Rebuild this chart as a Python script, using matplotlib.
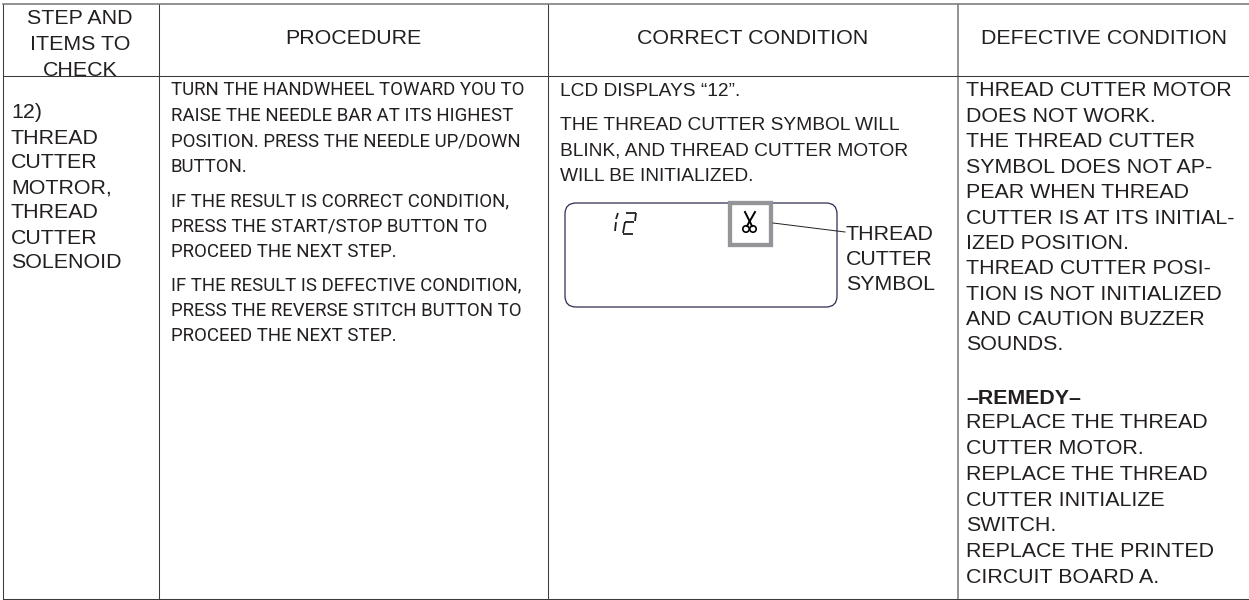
import matplotlib.pyplot as plt
from matplotlib.patches import FancyBboxPatch, Rectangle, Circle

plt.rcParams['font.family'] = ['Liberation Sans', 'DejaVu Sans']

headers = ['PROCEDURE', 'CORRECT CONDITION', 'DEFECTIVE CONDITION']
header_first = ['STEP AND', 'ITEMS TO', 'CHECK']
col_items = ['12)', 'THREAD', 'CUTTER', 'MOTROR,', 'THREAD', 'CUTTER', 'SOLENOID']
proc_1 = ['TURN THE HANDWHEEL TOWARD YOU TO', 'RAISE THE NEEDLE BAR AT ITS HIGHEST',
          'POSITION. PRESS THE NEEDLE UP/DOWN', 'BUTTON.']
proc_2 = ['IF THE RESULT IS CORRECT CONDITION,', 'PRESS THE START/STOP BUTTON TO',
          'PROCEED THE NEXT STEP.']
proc_3 = ['IF THE RESULT IS DEFECTIVE CONDITION,', 'PRESS THE REVERSE STITCH BUTTON TO',
          'PROCEED THE NEXT STEP.']
correct_1 = ['LCD DISPLAYS “12”.']
correct_2 = ['THE THREAD CUTTER SYMBOL WILL', 'BLINK, AND THREAD CUTTER MOTOR',
             'WILL BE INITIALIZED.']
symbol_label = ['THREAD', 'CUTTER', 'SYMBOL']
defect = ['THREAD CUTTER MOTOR', 'DOES NOT WORK.', 'THE THREAD CUTTER',
          'SYMBOL DOES NOT AP-', 'PEAR WHEN THREAD', 'CUTTER IS AT ITS INITIAL-',
          'IZED POSITION.', 'THREAD CUTTER POSI-', 'TION IS NOT INITIALIZED',
          'AND CAUTION BUZZER', 'SOUNDS.']
remedy = ['REPLACE THE THREAD', 'CUTTER MOTOR.', 'REPLACE THE THREAD',
          'CUTTER INITIALIZE', 'SWITCH.', 'REPLACE THE PRINTED', 'CIRCUIT BOARD A.']

fig = plt.figure(figsize=(12.49, 6), dpi=100)
ax = fig.add_axes([0, 0, 1, 1])
ax.set_xlim(0, 1249)
ax.set_ylim(600, 0)
ax.axis('off')

DARK = '#3a3a3a'
GREY = '#808080'
INK = '#231f20'
SIZE = 15.4


def block(lines, x, y, step, size=SIZE, ha='left', **kw):
    for i, line in enumerate(lines):
        ax.text(x, y + 1 + i * step, line, fontsize=size, ha=ha, va='center', color=INK, **kw)


# table grid, no line on the right side
top, bottom, head = 4, 599, 76
for x in [3, 159, 548]:
    ax.plot([x, x], [top, bottom], color=DARK, lw=0.75)
ax.plot([958, 958], [top, bottom], color=GREY, lw=1.2)
ax.plot([3, 1249], [top, top], color=GREY, lw=1.2)
ax.plot([3, 1249], [head, head], color=DARK, lw=0.75)
ax.plot([3, 1249], [bottom, bottom], color=DARK, lw=0.75)

# header row
block(header_first, 80, 17, 26, ha='center')
for name, x in zip(headers, [353, 753, 1104]):
    ax.text(x, 39, name, fontsize=SIZE, ha='center', va='center', color=INK)

# body text, procedure column is condensed in the original so roboto fits best
block(col_items, 11, 112, 25)
block(proc_1, 171, 89, 25.7, size=13.4, family='Roboto')
block(proc_2, 171, 200, 25.7, size=13.4, family='Roboto')
block(proc_3, 171, 284, 25.7, size=13.4, family='Roboto')
block(correct_1, 560, 90, 26, size=13.8)
block(correct_2, 560, 124, 25.7, size=13.8)
block(symbol_label, 846, 233, 25.5)
block(defect, 966, 90, 25.4)
ax.text(966, 398, '–REMEDY–', fontsize=SIZE, fontweight='bold', ha='left', va='center', color=INK)
block(remedy, 966, 422, 25.67)

# lcd panel
ax.add_patch(FancyBboxPatch((565, 203), 272, 104, boxstyle='round,pad=0,rounding_size=11',
                            fc='white', ec='#2b2b50', lw=0.9))
ax.add_patch(Rectangle((730, 203), 41, 42, fc='white', ec='#939598', lw=3.1))
ax.plot([773, 845], [223, 232], color=INK, lw=0.7)

# seven segment 12
for xs, ys in [([618, 616], [213, 219]), ([616, 615], [222, 231]),
               ([626, 636], [213, 213]), ([636, 635], [213, 221]), ([634, 625], [222, 222]),
               ([625, 623], [222, 233]), ([623, 633], [234, 234])]:
    ax.plot(xs, ys, color=INK, lw=1.3, solid_capstyle='butt')

# scissors
ax.plot([745, 752], [212, 226], color='black', lw=1.4)
ax.plot([755, 747], [212, 226], color='black', lw=1.4)
ax.add_patch(Circle((746, 229), 3.2, fc='none', ec='black', lw=1.2))
ax.add_patch(Circle((753, 229), 3.2, fc='none', ec='black', lw=1.2))

fig.savefig('out.png', dpi=100)
